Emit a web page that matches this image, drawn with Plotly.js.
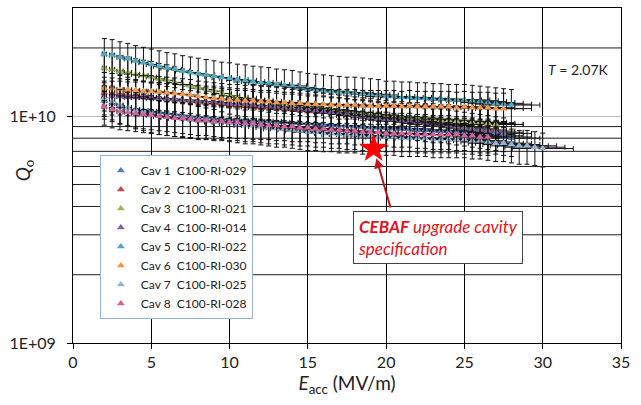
<!DOCTYPE html>
<html>
<head>
<meta charset="utf-8">
<script src="https://cdn.plot.ly/plotly-3.0.1.min.js"></script>
<style>html,body{margin:0;padding:0;background:#fff}#chart{width:641px;height:405px}</style>
</head>
<body>
<div id="chart"></div>
<script>
// Accelerating gradient Eacc (MV/m)
const Eacc = [2,2.5,3,3.5,4,4.5,5,5.5,6,6.5,7,7.5,8,8.5,9,9.5,10,10.5,11,11.5,12,12.5,13,13.5,14,14.5,15,15.5,16,16.5,17,17.5,18,18.5,19,19.5,20,20.5,21,21.5,22,22.5,23,23.5,24,24.5,25,25.5,26,26.5,27,27.5,28,28.5,29,29.5,30];

// Q0 values in units of 1E10
const cav1 = [1.17,1.14,1.11,1.09,1.07,1.06,1.05,1.04,1.03,1.02,1.01,1.00,0.99,0.99,0.98,0.97,0.97,
  0.96,0.96,0.95,0.95,0.95,0.94,0.94,0.93,0.93,0.93,
  0.92,0.92,0.91,0.91,0.91,0.90,0.90,0.89,0.89,0.89,
  0.88,0.88,0.88,0.87,0.87,0.86,0.86,0.86,0.85,0.85,
  0.84,0.83,0.83,0.82,0.81,0.80];
const cav2 = [1.27,1.26,1.25,1.24,1.23,1.22,1.21,1.20,1.19,1.18,1.17,1.16,1.15,1.14,1.14,1.13,1.12,
  1.11,1.11,1.10,1.09,1.09,1.08,1.07,1.07,1.06,1.05,
  1.05,1.04,1.03,1.03,1.02,1.01,1.01,1.00,0.99,0.98,
  0.98,0.97,0.97,0.96,0.96,0.95,0.95,0.94,0.94,0.93,
  0.93,0.93,0.92,0.92];
const cav3 = [1.63,1.61,1.58,1.56,1.53,1.51,1.49,1.46,1.44,1.41,1.38,1.36,1.33,1.31,1.29,1.26,1.23,
  1.21,1.20,1.18,1.17,1.16,1.15,1.13,1.12,1.11,1.10,
  1.09,1.08,1.07,1.06,1.05,1.04,1.03,1.02,1.01,1.00,
  0.99,0.99,0.98,0.98,0.97,0.97,0.96,0.96,0.95,0.95,
  0.94,0.94,0.93,0.92];
const cav4 = [1.22,1.22,1.22,1.21,1.21,1.21,1.20,1.20,1.19,1.19,1.18,1.18,1.17,1.16,1.16,1.15,1.14,
  1.13,1.13,1.12,1.11,1.11,1.10,1.09,1.09,1.08,1.07,
  1.06,1.05,1.04,1.03,1.02,1.01,1.00,0.99,0.98,0.97,
  0.96,0.95,0.95,0.94,0.93,0.92,0.92,0.91,0.90,0.89,
  0.88,0.87,0.86,0.85,0.84];
const cav5 = [1.88,1.86,1.82,1.79,1.75,1.72,1.69,1.66,1.63,1.61,1.58,1.56,1.54,1.52,1.50,1.48,1.47,
  1.45,1.44,1.42,1.41,1.40,1.38,1.37,1.36,1.34,1.32,
  1.31,1.30,1.29,1.28,1.27,1.27,1.26,1.25,1.24,1.22,
  1.22,1.21,1.21,1.20,1.20,1.19,1.19,1.18,1.18,1.18,
  1.17,1.16,1.15,1.14,1.13,1.12];
const cav6 = [1.33,1.32,1.31,1.31,1.30,1.29,1.29,1.28,1.27,1.26,1.25,1.24,1.22,1.21,1.20,1.19,1.18,
  1.18,1.17,1.17,1.16,1.16,1.15,1.15,1.14,1.14,1.13,
  1.13,1.13,1.12,1.12,1.12,1.12,1.11,1.11,1.11,1.11,
  1.11,1.10,1.11,1.10,1.10,1.10,1.10,1.10,1.09,1.10,
  1.09,1.09,1.09,1.08,1.08];
const cav7 = [1.20,1.16,1.12,1.09,1.06,1.04,1.02,1.00,0.99,0.98,0.97,0.96,0.95,0.95,0.94,0.94,0.93,
  0.92,0.91,0.91,0.90,0.89,0.88,0.88,0.87,0.86,0.85,
  0.85,0.84,0.84,0.83,0.83,0.83,0.82,0.82,0.81,0.81,
  0.81,0.80,0.80,0.80,0.80,0.79,0.79,0.79,0.79,0.79,
  0.78,0.78,0.77,0.76,0.76,0.75,0.74,0.74,0.73,0.72];
const cav8 = [1.10,1.07,1.05,1.04,1.03,1.02,1.01,1.00,0.99,0.98,0.98,0.97,0.96,0.96,0.95,0.95,0.94,
  0.94,0.93,0.93,0.92,0.91,0.91,0.90,0.90,0.89,0.89,
  0.88,0.88,0.87,0.87,0.86,0.86,0.85,0.85,0.85,0.84,
  0.84,0.84,0.84,0.83,0.83,0.83,0.83,0.83,0.83,0.82,
  0.82,0.81,0.81];

const seriesNames = ['Cav 1\u00a0 C100-RI-029','Cav 2\u00a0 C100-RI-031','Cav 3\u00a0 C100-RI-021','Cav 4\u00a0 C100-RI-014',
                     'Cav 5\u00a0 C100-RI-022','Cav 6\u00a0 C100-RI-030','Cav 7\u00a0 C100-RI-025','Cav 8\u00a0 C100-RI-028'];
const seriesQ = [cav1,cav2,cav3,cav4,cav5,cav6,cav7,cav8];
const seriesColors = ['#4F81BD','#C0504D','#9BBB59','#8064A2','#4BACC6','#F79646','#95B3D7','#D6609C'];
const yErrPercent = 17;
const xErrPercent = 6.5;

// CEBAF upgrade spec point
const specE = [19.2];
const specQ = [0.72];

// axis ticks (Q in units of 1E10)
const yTickVals = [0.1, 1];
const yTickText = ['1E+09', '1E+10'];
const yMinorGrid = [0.2,0.3,0.4,0.5,0.6,0.7,0.8,0.9,2];
const xTickVals = [0,5,10,15,20,25,30,35];

const FONT = 'Lato, "Liberation Sans", sans-serif';

const traces = seriesQ.map((q, i) => ({
  type: 'scatter', mode: 'markers', name: seriesNames[i],
  x: Eacc.slice(0, q.length), y: q,
  marker: {symbol: 'triangle-up', size: 7, color: seriesColors[i]},
  error_y: {type: 'percent', value: yErrPercent, color: '#111', thickness: 1, width: 2.5},
  error_x: {type: 'percent', value: xErrPercent, color: '#111', thickness: 1, width: 2.5}
}));
traces.push({
  type: 'scatter', mode: 'markers', x: specE, y: specQ, showlegend: false,
  marker: {symbol: 'star', size: 22, color: '#FF0000', line: {width: 0}}
});

const shapes = yMinorGrid.map(v => ({
  type: 'line', xref: 'paper', x0: 0, x1: 1, yref: 'y', y0: v, y1: v,
  line: {color: '#1e1e1e', width: 1}, layer: 'below'
}));

const layout = {
  width: 641, height: 405,
  margin: {l: 73, r: 20, t: 8, b: 62},
  paper_bgcolor: '#fff', plot_bgcolor: '#fff',
  font: {family: FONT, size: 16, color: '#222'},
  showlegend: true,
  legend: {x: 0.049, y: 0.561, xanchor: 'left', yanchor: 'top',
    bgcolor: '#fff', bordercolor: '#95B3D7', borderwidth: 1, itemwidth: 30,
    font: {family: FONT, size: 12, color: '#222'}, tracegroupgap: 0},
  xaxis: {
    range: [0, 35], tickmode: 'array', tickvals: xTickVals,
    showgrid: true, gridcolor: '#000', gridwidth: 1,
    showline: true, linecolor: '#000', linewidth: 1, mirror: true,
    ticks: 'outside', ticklen: 5, tickcolor: '#000', zeroline: false,
    tickfont: {size: 16},
    title: {text: '<i>E</i><sub>acc</sub> (MV/m)', font: {size: 19}, standoff: 4}
  },
  yaxis: {
    type: 'log', range: [-1, Math.log10(3)],
    tickmode: 'array', tickvals: yTickVals, ticktext: yTickText,
    showgrid: true, gridcolor: '#bdbdbd', gridwidth: 1,
    showline: true, linecolor: '#000', linewidth: 1, mirror: true,
    ticks: 'outside', ticklen: 5, tickcolor: '#000', zeroline: false,
    tickfont: {size: 16}, ticklabelstandoff: 8
  },
  shapes: shapes,
  annotations: [
    {xref: 'paper', yref: 'paper', x: -0.089, y: 0.516, xanchor: 'center', yanchor: 'middle',
     textangle: -90, showarrow: false,
     text: '<i>Q</i><sub>o</sub>', font: {size: 19, color: '#222'}},
    {xref: 'paper', yref: 'paper', x: 0.864, y: 0.815, xanchor: 'left', yanchor: 'middle', showarrow: false,
     text: '<i>T</i> = 2.07K', font: {size: 14, color: '#222'}},
    {xref: 'paper', yref: 'paper', x: 0.666, y: 0.316, xanchor: 'center', yanchor: 'middle',
     showarrow: false, align: 'left',
     text: '<b><i>CEBAF</i></b><i> upgrade cavity</i><br><i>specification</i>',
     font: {size: 17, color: '#E8101A'}, bgcolor: '#fff', bordercolor: '#444', borderwidth: 1, borderpad: 4},
    {xref: 'x', yref: 'y', x: specE[0], y: Math.log10(specQ[0]), text: ' ', showarrow: true,
     ax: 18, ay: 63, arrowcolor: '#C0141C', arrowwidth: 2, arrowhead: 2, arrowsize: 1, standoff: 10,
     font: {size: 4}}
  ]
};

Plotly.newPlot('chart', traces, layout, {displayModeBar: false, staticPlot: true});
</script>
</body>
</html>
